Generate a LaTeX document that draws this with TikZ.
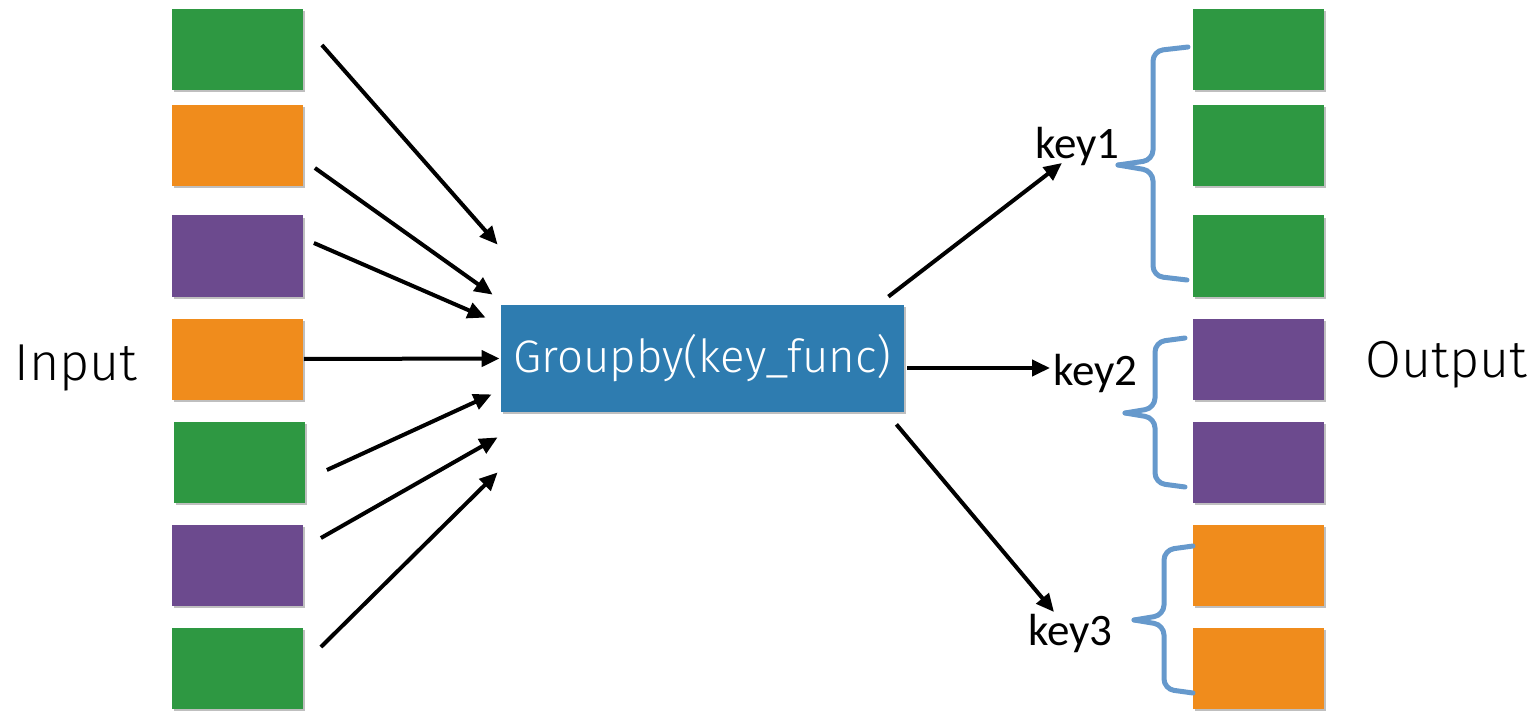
\documentclass[tikz,border=0pt]{standalone}
\usepackage{fontspec}
\usetikzlibrary{arrows.meta,shadows}
\newfontfamily\lightsans{Fira Sans Light}
\newfontfamily\keyfont{Carlito}
\definecolor{cgreen}{RGB}{46,152,66}
\definecolor{corange}{RGB}{240,140,28}
\definecolor{cpurple}{RGB}{108,74,142}
\definecolor{cblue}{RGB}{46,124,176}
\definecolor{cbrace}{RGB}{102,153,204}
\tikzset{
  card/.style={draw=none, minimum width=65.5pt, minimum height=40.5pt, inner sep=0pt,
    drop shadow={shadow xshift=1pt, shadow yshift=-1.2pt, fill=black, opacity=0.25}},
  arr/.style={line width=2pt, -{Triangle[length=9pt,width=8pt]}},
  brace/.style={cbrace, line width=2.5pt, rounded corners=5pt, line cap=round},
  keylabel/.style={font=\keyfont\fontsize{22.5pt}{26pt}\selectfont, inner sep=0pt, anchor=base west},
  biglabel/.style={font=\lightsans\fontsize{26pt}{31pt}\selectfont, inner sep=0pt, anchor=base west}
}
\begin{document}
\begin{tikzpicture}[x=0.5pt,y=-0.5pt]
\useasboundingbox (0,0) rectangle (1536,711);
% left cards
\node[card, fill=cgreen]  (L1) at (237,49.5) {};
\node[card, fill=corange] (L2) at (237,145.5) {};
\node[card, fill=cpurple] (L3) at (237,256) {};
\node[card, fill=corange] (L4) at (237,359) {};
\node[card, fill=cgreen]  (L5) at (239,462.5) {};
\node[card, fill=cpurple] (L6) at (237,565.5) {};
\node[card, fill=cgreen]  (L7) at (237,668.5) {};
% right cards
\node[card, fill=cgreen]  (R1) at (1258.5,49.5) {};
\node[card, fill=cgreen]  (R2) at (1258.5,145.5) {};
\node[card, fill=cgreen]  (R3) at (1258.5,256) {};
\node[card, fill=cpurple] (R4) at (1258.5,359) {};
\node[card, fill=cpurple] (R5) at (1258.5,462.5) {};
\node[card, fill=corange] (R6) at (1258.5,565.5) {};
\node[card, fill=corange] (R7) at (1258.5,668.5) {};
% central box
\node[card, fill=cblue, minimum width=201.5pt, minimum height=53.5pt, text=white,
  font=\lightsans\fontsize{22.8pt}{27pt}\selectfont] (G) at (702.5,358.5) {Groupby(key\_func)};
% labels
\node[biglabel] (IN) at (14,380) {Input};
\node[biglabel] (OUT) at (1365,377) {Output};
\node[keylabel] (K1) at (1035,159) {key1};
\node[keylabel] (K2) at (1053,385) {key2};
\node[keylabel] (K3) at (1028,645) {key3};
% input arrows
\draw[arr] ([shift={(19,-4.5)}]L1.east) -- ([shift={(-3,-60)}]G.north west);
\draw[arr] ([shift={(12,22.5)}]L2.east) -- ([shift={(-8,-10)}]G.north west);
\draw[arr] ([shift={(11,-13)}]L3.east) -- ([shift={(-15,13)}]G.north west);
\draw[arr] ([shift={(1,0)}]L4.east) -- ([shift={(-1,0)}]G.west);
\draw[arr] ([shift={(22,7.5)}]L5.east) -- ([shift={(-9,-18)}]G.south west);
\draw[arr] ([shift={(18,-27.5)}]L6.east) -- ([shift={(-3,25)}]G.south west);
\draw[arr] ([shift={(18,-21.5)}]L7.east) -- ([shift={(-3,60)}]G.south west);
% output arrows
\draw[arr] ([shift={(-16,-8)}]G.north east) -- ([shift={(27,4)}]K1.base west);
\draw[arr] ([shift={(3,9.5)}]G.east) -- ([shift={(-3,-17)}]K2.base west);
\draw[arr] ([shift={(-8,12)}]G.south east) -- ([shift={(26,-33)}]K3.base west);
% braces
\draw[brace] (1188,47) -- (1153,51) -- (1153,160) -- (1118,165);
\draw[brace] (1118,165) -- (1153,171) -- (1153,276) -- (1187,280);
\draw[brace] (1185,338) -- (1155,342) -- (1155,408) -- (1125,413);
\draw[brace] (1125,413) -- (1155,418) -- (1155,483) -- (1185,487);
\draw[brace] (1193,546) -- (1164,550) -- (1164,615) -- (1134,620);
\draw[brace] (1134,620) -- (1164,625) -- (1164,689) -- (1193,693);
\end{tikzpicture}
\end{document}
